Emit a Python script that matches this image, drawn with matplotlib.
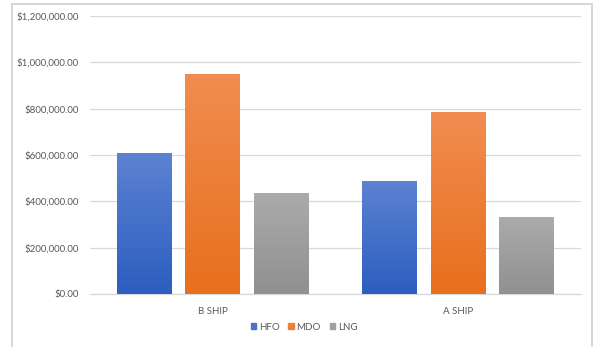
import numpy as np
import matplotlib
matplotlib.use("Agg")
import matplotlib.pyplot as plt
from matplotlib.colors import LinearSegmentedColormap
from matplotlib.patches import Rectangle
from matplotlib.ticker import FuncFormatter

# Fuel cost per ship
ships = ["B SHIP", "A SHIP"]
fuels = ["HFO", "MDO", "LNG"]
hfo = [607000, 488000]
mdo = [950000, 785000]
lng = [435000, 334000]
series = [hfo, mdo, lng]

y_ticks = [0, 200000, 400000, 600000, 800000, 1000000, 1200000]

# (top colour, bottom colour) for each fuel's gradient fill
grad_colors = [("#5c82d2", "#2c5ec0"), ("#f18d50", "#e86f1d"), ("#ababab", "#909090")]

plt.rcParams["font.family"] = ["Lato", "DejaVu Sans"]
text_color = "#595959"

fig = plt.figure(figsize=(5.95, 3.47), dpi=100)
W, H = 595, 347
ax = fig.add_axes([90 / W, 1 - 294 / H, (581 - 90) / W, (294 - 16) / H])

# outer chart frame
fig.patches.append(Rectangle((12 / W, -0.05), (592 - 12) / W, (1 - 4 / H) + 0.05,
                             transform=fig.transFigure, fill=False,
                             edgecolor="#d0d0d0", linewidth=1.2))

bar_w = 0.224
step = 0.279
x = np.arange(len(ships))
handles = []
for i, (vals, (c_top, c_bot)) in enumerate(zip(series, grad_colors)):
    bars = ax.bar(x + (i - 1) * step, vals, width=bar_w, color=c_top,
                  label=fuels[i], zorder=2)
    cmap = LinearSegmentedColormap.from_list(fuels[i], [c_bot, c_top])
    grad = np.linspace(0, 1, 256).reshape(-1, 1)
    for b in bars:
        bx, by = b.get_x(), b.get_y()
        bw, bh = b.get_width(), b.get_height()
        im = ax.imshow(grad, cmap=cmap, origin="lower", aspect="auto",
                       extent=(bx, bx + bw, by, by + bh), zorder=3)
        im.set_clip_path(b)
    handles.append(Rectangle((0, 0), 1, 1, color=cmap(0.6)))

ax.set_xlim(-0.5, 1.5)
ax.set_ylim(0, 1200000)
ax.set_yticks(y_ticks)
ax.yaxis.set_major_formatter(FuncFormatter(lambda v, p: f"${v:,.2f}"))
ax.set_xticks(x)
ax.set_xticklabels(ships)

ax.grid(axis="y", color="#d9d9d9", linewidth=0.9, zorder=0)
ax.set_axisbelow(True)
for s in ["top", "right", "left"]:
    ax.spines[s].set_visible(False)
ax.spines["bottom"].set_color("#d9d9d9")
ax.spines["bottom"].set_linewidth(0.9)
ax.tick_params(axis="both", length=0, labelsize=7, colors=text_color)
ax.tick_params(axis="y", pad=8)
ax.tick_params(axis="x", pad=9)

fig.legend(handles, fuels, loc="center", bbox_to_anchor=(304 / W, 1 - 327 / H),
           ncol=3, frameon=False, fontsize=7, handlelength=0.55, handleheight=0.55,
           handletextpad=0.3, columnspacing=0.9, labelcolor=text_color)

fig.savefig("out.png", dpi=100)
